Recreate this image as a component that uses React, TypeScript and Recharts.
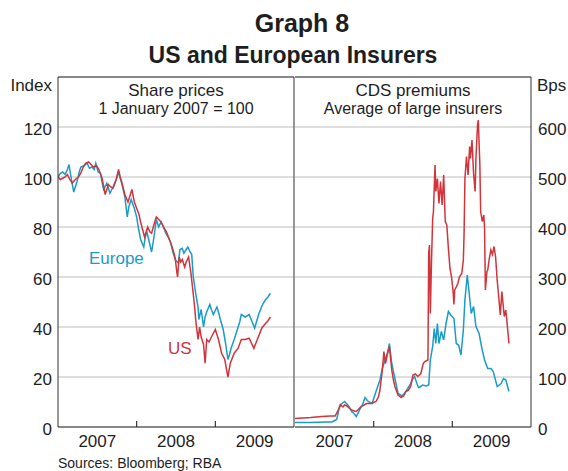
import { CartesianGrid, Line, LineChart, ReferenceLine, XAxis, YAxis } from "recharts";

const FONT = '"Liberation Sans", Arial, sans-serif';
const BLUE = "#1a9bc9";
const RED = "#d2343b";
const GRID = "#bdbdbd";
const AXIS = "#333333";
const TEXT = "#1e1e1e";

// x axis: decimal years
const yearBounds = [2007, 2010];
const yearTicks = [2008, 2009];
const yearLabelTicks = [2007.5, 2008.5, 2009.5];

const shareTicks = [0, 20, 40, 60, 80, 100, 120];
const shareBounds = [0, 140];
const cdsTicks = [0, 100, 200, 300, 400, 500, 600];
const cdsBounds = [0, 700];

// share prices, 1 January 2007 = 100  [year, index]
const europeShare: [number, number][] = [
  [2007.0, 100], [2007.03, 101.5], [2007.06, 102], [2007.09, 101], [2007.12, 103],
  [2007.14, 105], [2007.16, 101], [2007.2, 94], [2007.24, 98], [2007.27, 102],
  [2007.29, 104], [2007.33, 104.5], [2007.37, 105.5], [2007.4, 103.5], [2007.43, 104],
  [2007.46, 103], [2007.48, 105.5], [2007.51, 102], [2007.54, 101.5], [2007.56, 98],
  [2007.58, 95], [2007.62, 97.5], [2007.66, 93.5], [2007.7, 96], [2007.74, 99],
  [2007.77, 102], [2007.81, 97.5], [2007.85, 92], [2007.88, 84], [2007.9, 88],
  [2007.93, 91], [2007.97, 87.5], [2008.0, 84], [2008.02, 80], [2008.05, 75],
  [2008.09, 72], [2008.11, 76], [2008.13, 78], [2008.16, 74], [2008.19, 70],
  [2008.22, 76], [2008.25, 83], [2008.28, 80], [2008.31, 82], [2008.34, 80],
  [2008.37, 77.5], [2008.4, 76], [2008.43, 74], [2008.46, 70], [2008.49, 67],
  [2008.53, 65.5], [2008.55, 71], [2008.58, 71.5], [2008.6, 69.5], [2008.63, 71],
  [2008.65, 72], [2008.68, 70], [2008.7, 69], [2008.72, 60], [2008.75, 53.5],
  [2008.78, 48], [2008.79, 43], [2008.82, 47], [2008.85, 40], [2008.87, 44],
  [2008.89, 46], [2008.93, 49], [2008.95, 47], [2008.975, 45], [2009.02, 48],
  [2009.04, 46], [2009.06, 43.5], [2009.1, 39], [2009.13, 33.5], [2009.16, 27],
  [2009.18, 29], [2009.2, 31.5], [2009.24, 35], [2009.28, 39], [2009.31, 42],
  [2009.33, 45], [2009.38, 44], [2009.43, 45], [2009.475, 41.5], [2009.5, 39.5],
  [2009.55, 45], [2009.6, 49], [2009.64, 51], [2009.67, 52], [2009.7, 53.5],
];

const usShare: [number, number][] = [
  [2007.0, 100], [2007.03, 99], [2007.06, 99.5], [2007.09, 100], [2007.12, 101],
  [2007.15, 99], [2007.18, 97.5], [2007.22, 99], [2007.26, 100], [2007.29, 101.5],
  [2007.32, 104], [2007.35, 105.5], [2007.39, 106], [2007.42, 105], [2007.45, 104],
  [2007.49, 104.5], [2007.52, 103], [2007.56, 99.5], [2007.6, 93], [2007.64, 97],
  [2007.67, 96], [2007.7, 95.5], [2007.74, 99], [2007.77, 103], [2007.79, 100],
  [2007.81, 98], [2007.85, 93], [2007.89, 90], [2007.94, 95], [2007.97, 90],
  [2008.0, 87.5], [2008.03, 85], [2008.05, 82], [2008.1, 76], [2008.14, 80],
  [2008.17, 78], [2008.19, 77.5], [2008.22, 81], [2008.25, 84], [2008.28, 83],
  [2008.31, 82], [2008.35, 79.5], [2008.38, 78], [2008.41, 75.5], [2008.44, 73],
  [2008.47, 70], [2008.49, 67.5], [2008.51, 62], [2008.52, 60], [2008.54, 68],
  [2008.56, 66], [2008.58, 67], [2008.61, 64], [2008.63, 66], [2008.66, 68],
  [2008.69, 61.5], [2008.72, 53], [2008.74, 47], [2008.75, 43], [2008.78, 35],
  [2008.8, 40], [2008.82, 36], [2008.85, 33], [2008.87, 25.5], [2008.89, 35],
  [2008.92, 34], [2008.95, 36], [2009.0, 39], [2009.04, 35], [2009.08, 29.5],
  [2009.12, 27], [2009.16, 20], [2009.19, 25.5], [2009.24, 29.5], [2009.29, 31.5],
  [2009.33, 35], [2009.38, 35], [2009.43, 35.5], [2009.49, 31.5], [2009.54, 35.5],
  [2009.59, 39.5], [2009.64, 41.5], [2009.67, 42.5], [2009.7, 44],
];

// CDS premiums, basis points  [year, bps]
const europeCds: [number, number][] = [
  [2007.0, 9], [2007.2, 9], [2007.4, 10], [2007.47, 10], [2007.53, 15],
  [2007.57, 44], [2007.6, 47], [2007.63, 51], [2007.66, 46], [2007.69, 40],
  [2007.72, 31], [2007.75, 27], [2007.78, 21], [2007.83, 37], [2007.86, 45],
  [2007.89, 59], [2007.93, 51], [2007.98, 47], [2008.03, 71], [2008.08, 94],
  [2008.11, 117], [2008.16, 141], [2008.18, 150], [2008.2, 167], [2008.23, 127],
  [2008.27, 97], [2008.31, 67], [2008.36, 62], [2008.41, 71], [2008.46, 84],
  [2008.5, 97], [2008.52, 101], [2008.55, 87], [2008.57, 79], [2008.6, 81],
  [2008.62, 84], [2008.67, 82], [2008.7, 84], [2008.72, 134], [2008.75, 161],
  [2008.77, 197], [2008.79, 167], [2008.81, 207], [2008.83, 167], [2008.86, 191],
  [2008.89, 174], [2008.92, 207], [2008.95, 231], [2008.98, 224], [2009.02, 217],
  [2009.05, 167], [2009.08, 164], [2009.11, 144], [2009.14, 194], [2009.16, 254],
  [2009.19, 304], [2009.21, 274], [2009.24, 227], [2009.27, 241], [2009.3, 201],
  [2009.34, 187], [2009.38, 154], [2009.41, 134], [2009.45, 117], [2009.49, 117],
  [2009.52, 111], [2009.57, 81], [2009.62, 87], [2009.65, 97], [2009.68, 94],
  [2009.72, 71],
];

const usCds: [number, number][] = [
  [2007.0, 17], [2007.1, 18], [2007.2, 19], [2007.34, 21], [2007.45, 22],
  [2007.51, 22], [2007.55, 34], [2007.58, 44], [2007.61, 40], [2007.63, 44],
  [2007.66, 42], [2007.68, 39], [2007.72, 34], [2007.75, 32], [2007.78, 31],
  [2007.81, 36], [2007.84, 41], [2007.88, 44], [2007.91, 47], [2007.97, 47],
  [2008.03, 51], [2008.06, 60], [2008.08, 74], [2008.11, 114], [2008.13, 151],
  [2008.15, 127], [2008.18, 150], [2008.2, 161], [2008.23, 114], [2008.25, 95],
  [2008.27, 81], [2008.31, 64], [2008.35, 59], [2008.38, 62], [2008.41, 71],
  [2008.44, 73], [2008.47, 81], [2008.5, 104], [2008.53, 106], [2008.56, 101],
  [2008.6, 107], [2008.63, 127], [2008.65, 131], [2008.69, 134], [2008.7, 350],
  [2008.71, 364], [2008.72, 227], [2008.735, 330], [2008.75, 417], [2008.76, 431],
  [2008.78, 524], [2008.79, 471], [2008.81, 497], [2008.83, 447], [2008.85, 491],
  [2008.87, 444], [2008.89, 504], [2008.91, 411], [2008.93, 404], [2008.95, 357],
  [2008.97, 317], [2008.99, 300], [2009.01, 270], [2009.02, 245], [2009.03, 274],
  [2009.05, 280], [2009.07, 287], [2009.09, 300], [2009.12, 307], [2009.14, 334],
  [2009.15, 391], [2009.16, 497], [2009.18, 541], [2009.2, 504], [2009.22, 561],
  [2009.23, 537], [2009.25, 574], [2009.27, 507], [2009.29, 471], [2009.3, 537],
  [2009.32, 604], [2009.33, 614], [2009.35, 524], [2009.36, 431], [2009.38, 411],
  [2009.4, 424], [2009.41, 397], [2009.42, 274], [2009.44, 311], [2009.45, 314],
  [2009.47, 337], [2009.49, 354], [2009.51, 345], [2009.53, 361], [2009.55, 340],
  [2009.57, 294], [2009.59, 260], [2009.61, 224], [2009.63, 271], [2009.66, 221],
  [2009.68, 234], [2009.7, 201], [2009.72, 167],
];

const rows = (pts: [number, number][]) => pts.map(([t, v]) => ({ t, v }));

const tickFont = { fill: TEXT, fontSize: 17, fontFamily: FONT };

// year boundary marks stand inside the panel, about 6px tall
const yearMarks = (top: number) =>
  yearTicks.map((yr) => (
    <ReferenceLine
      key={yr}
      segment={[
        { x: yr, y: 0 },
        { x: yr, y: top * (6 / 350) },
      ]}
      stroke={AXIS}
      strokeWidth={1.2}
    />
  ));

export default function App() {
  return (
    <div
      style={{
        position: "absolute",
        left: 0,
        top: 0,
        width: 568,
        height: 471,
        background: "#fff",
        fontFamily: FONT,
        overflow: "hidden",
      }}
    >
      <div style={{ position: "absolute", left: 0, top: 0 }}>
        <LineChart width={295} height={471} margin={{ top: 77, right: 1, bottom: 18, left: 0 }}>
          <CartesianGrid vertical={false} stroke={GRID} />
          <XAxis
            dataKey="t"
            type="number"
            domain={yearBounds}
            ticks={yearLabelTicks}
            allowDataOverflow
            interval={0}
            height={26}
            axisLine={{ stroke: AXIS }}
            tickLine={false}
            tickSize={0}
            tickMargin={8}
            tickFormatter={(v: number) => String(Math.floor(v))}
            tick={tickFont}
          />
          <YAxis
            type="number"
            domain={shareBounds}
            ticks={shareTicks}
            interval={0}
            width={58}
            tickLine={false}
            tickMargin={0}
            axisLine={{ stroke: AXIS }}
            tick={{ ...tickFont, dy: 1.5 }}
          />
          <ReferenceLine y={140} stroke={AXIS} />
          <ReferenceLine x={2010} stroke={AXIS} />
          {yearMarks(shareBounds[1])}
          <Line data={rows(europeShare)} dataKey="v" type="linear" stroke={BLUE} strokeWidth={1.5} dot={false} isAnimationActive={false} />
          <Line data={rows(usShare)} dataKey="v" type="linear" stroke={RED} strokeWidth={1.5} dot={false} isAnimationActive={false} />
        </LineChart>
      </div>

      <div style={{ position: "absolute", left: 295, top: 0 }}>
        <LineChart width={273} height={471} margin={{ top: 77, right: 0, bottom: 18, left: 0 }}>
          <CartesianGrid vertical={false} stroke={GRID} />
          <XAxis
            dataKey="t"
            type="number"
            domain={yearBounds}
            ticks={yearLabelTicks}
            allowDataOverflow
            interval={0}
            height={26}
            axisLine={{ stroke: AXIS }}
            tickLine={false}
            tickSize={0}
            tickMargin={8}
            tickFormatter={(v: number) => String(Math.floor(v))}
            tick={tickFont}
          />
          <YAxis
            orientation="right"
            type="number"
            domain={cdsBounds}
            ticks={cdsTicks}
            interval={0}
            width={37}
            tickLine={false}
            tickMargin={1}
            axisLine={{ stroke: AXIS }}
            tick={{ ...tickFont, dy: 1.5 }}
          />
          <ReferenceLine y={700} stroke={AXIS} />
          {yearMarks(cdsBounds[1])}
          <Line data={rows(europeCds)} dataKey="v" type="linear" stroke={BLUE} strokeWidth={1.5} dot={false} isAnimationActive={false} />
          <Line data={rows(usCds)} dataKey="v" type="linear" stroke={RED} strokeWidth={1.5} dot={false} isAnimationActive={false} />
        </LineChart>
      </div>

      <svg
        width={568}
        height={471}
        style={{ position: "absolute", left: 0, top: 0, pointerEvents: "none" }}
        fontFamily={FONT}
      >
        <text x={302} y={32} fontSize={25} fontWeight="bold" textAnchor="middle" fill={TEXT}>
          Graph 8
        </text>
        <text x={293} y={63} fontSize={23} fontWeight="bold" textAnchor="middle" fill={TEXT}>
          US and European Insurers
        </text>
        <text x={176} y={96} fontSize={17} textAnchor="middle" fill={TEXT}>
          Share prices
        </text>
        <text x={176} y={114} fontSize={16} textAnchor="middle" fill={TEXT}>
          1 January 2007 = 100
        </text>
        <text x={413} y={96} fontSize={17} textAnchor="middle" fill={TEXT}>
          CDS premiums
        </text>
        <text x={413} y={114} fontSize={16} textAnchor="middle" fill={TEXT}>
          Average of large insurers
        </text>
        <text x={52} y={91} fontSize={17} textAnchor="end" fill={TEXT}>
          Index
        </text>
        <text x={537} y={91} fontSize={17} fill={TEXT}>
          Bps
        </text>
        <text x={89} y={264} fontSize={17} fill={BLUE}>
          Europe
        </text>
        <text x={168} y={354} fontSize={17} fill={RED}>
          US
        </text>
        <text x={58} y={468} fontSize={14} fill={TEXT}>
          Sources: Bloomberg; RBA
        </text>
      </svg>
    </div>
  );
}
